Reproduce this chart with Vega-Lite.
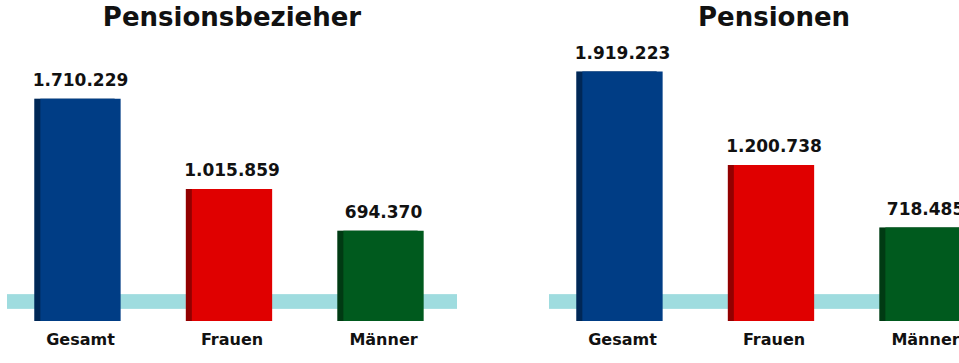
{
  "$schema": "https://vega.github.io/schema/vega-lite/v6.json",
  "padding": {"left": 0, "top": 5, "right": 0, "bottom": 0},
  "background": "white",
  "spacing": 78,
  "config": {
    "view": {"stroke": null},
    "locale": {"number": {"decimal": ",", "thousands": ".", "grouping": [3], "currency": ["", " €"]}},
    "title": {"fontSize": 26, "font": "DejaVu Sans", "fontWeight": "bold", "color": "#111111", "offset": 0, "anchor": "middle"}
  },
  "datasets": {
    "bezieher": [
      {"kategorie": "Gesamt", "wert": 1710229},
      {"kategorie": "Frauen", "wert": 1015859},
      {"kategorie": "Männer", "wert": 694370}
    ],
    "pensionen": [
      {"kategorie": "Gesamt", "wert": 1919223},
      {"kategorie": "Frauen", "wert": 1200738},
      {"kategorie": "Männer", "wert": 718485}
    ]
  },
  "hconcat": [
    {
      "title": "Pensionsbezieher",
      "width": 450,
      "height": 286,
      "data": {"name": "bezieher"},
      "layer": [
        {"mark": {"type": "rule", "color": "#9fdcdf", "strokeWidth": 14}, "encoding": {"y": {"datum": 150000, "type": "quantitative", "scale": {"domain": [0, 2200000]}, "axis": null}}},
        {"mark": {"type": "bar", "xOffset": -6},
         "encoding": {
           "x": {"field": "kategorie", "type": "nominal", "sort": ["Gesamt", "Frauen", "Männer"],
                 "scale": {"paddingInner": 0.47, "paddingOuter": 0.22},
                 "axis": {"title": null, "labelAngle": 0, "domain": false, "ticks": false, "labelFontSize": 16, "labelFontWeight": "bold", "labelColor": "#111111", "labelPadding": 10, "labelFont": "DejaVu Sans"}},
           "y": {"field": "wert", "type": "quantitative"},
           "color": {"field": "kategorie", "type": "nominal", "scale": {"domain": ["Gesamt", "Frauen", "Männer"], "range": ["#003d85", "#e00000", "#005a1e"]}, "legend": null}}},
        {"mark": {"type": "bar", "xOffset": -6, "color": "black", "opacity": 0.35},
         "encoding": {"x": {"field": "kategorie", "type": "nominal", "sort": ["Gesamt", "Frauen", "Männer"]}, "y": {"field": "wert", "type": "quantitative"}}},
        {"mark": {"type": "bar"},
         "encoding": {"x": {"field": "kategorie", "type": "nominal", "sort": ["Gesamt", "Frauen", "Männer"]}, "y": {"field": "wert", "type": "quantitative"}, "color": {"field": "kategorie", "type": "nominal", "legend": null}}},
        {"mark": {"type": "text", "dy": -18, "fontSize": 17, "fontWeight": "bold", "font": "DejaVu Sans", "color": "#111111"},
         "encoding": {"x": {"field": "kategorie", "type": "nominal", "sort": ["Gesamt", "Frauen", "Männer"]}, "y": {"field": "wert", "type": "quantitative"}, "text": {"field": "wert", "type": "quantitative", "format": ",d"}}}
      ]
    },
    {
      "title": "Pensionen",
      "width": 450,
      "height": 286,
      "data": {"name": "pensionen"},
      "layer": [
        {"mark": {"type": "rule", "color": "#9fdcdf", "strokeWidth": 14}, "encoding": {"y": {"datum": 150000, "type": "quantitative", "scale": {"domain": [0, 2200000]}, "axis": null}}},
        {"mark": {"type": "bar", "xOffset": -6},
         "encoding": {
           "x": {"field": "kategorie", "type": "nominal", "sort": ["Gesamt", "Frauen", "Männer"],
                 "scale": {"paddingInner": 0.47, "paddingOuter": 0.22},
                 "axis": {"title": null, "labelAngle": 0, "domain": false, "ticks": false, "labelFontSize": 16, "labelFontWeight": "bold", "labelColor": "#111111", "labelPadding": 10, "labelFont": "DejaVu Sans"}},
           "y": {"field": "wert", "type": "quantitative"},
           "color": {"field": "kategorie", "type": "nominal", "scale": {"domain": ["Gesamt", "Frauen", "Männer"], "range": ["#003d85", "#e00000", "#005a1e"]}, "legend": null}}},
        {"mark": {"type": "bar", "xOffset": -6, "color": "black", "opacity": 0.35},
         "encoding": {"x": {"field": "kategorie", "type": "nominal", "sort": ["Gesamt", "Frauen", "Männer"]}, "y": {"field": "wert", "type": "quantitative"}}},
        {"mark": {"type": "bar"},
         "encoding": {"x": {"field": "kategorie", "type": "nominal", "sort": ["Gesamt", "Frauen", "Männer"]}, "y": {"field": "wert", "type": "quantitative"}, "color": {"field": "kategorie", "type": "nominal", "legend": null}}},
        {"mark": {"type": "text", "dy": -18, "fontSize": 17, "fontWeight": "bold", "font": "DejaVu Sans", "color": "#111111"},
         "encoding": {"x": {"field": "kategorie", "type": "nominal", "sort": ["Gesamt", "Frauen", "Männer"]}, "y": {"field": "wert", "type": "quantitative"}, "text": {"field": "wert", "type": "quantitative", "format": ",d"}}}
      ]
    }
  ]
}
